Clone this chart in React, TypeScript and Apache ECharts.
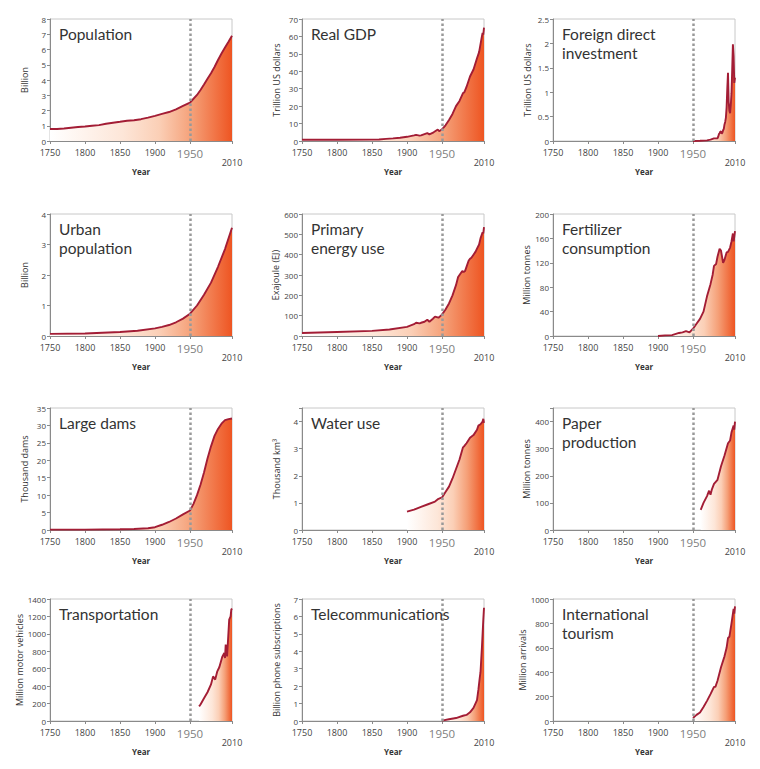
import React, { useEffect, useRef } from 'react';
import * as echarts from 'echarts';

const population = [[1750,0.79],[1760,0.79],[1770,0.82],[1780,0.87],[1790,0.92],[1800,0.95],[1810,1.0],[1820,1.04],[1830,1.13],[1840,1.2],[1850,1.26],[1860,1.33],[1870,1.36],[1880,1.43],[1890,1.53],[1900,1.65],[1910,1.78],[1920,1.9],[1930,2.07],[1940,2.3],[1950,2.52],[1955,2.77],[1960,3.02],[1965,3.34],[1970,3.7],[1975,4.08],[1980,4.44],[1985,4.85],[1990,5.31],[1995,5.74],[2000,6.13],[2005,6.51],[2010,6.9]];
const realGdp = [[1750,0.7],[1800,0.75],[1850,0.8],[1860,0.9],[1870,1.2],[1880,1.5],[1890,1.9],[1900,2.4],[1910,3.2],[1913,3.5],[1918,3.1],[1920,3.2],[1929,4.5],[1932,3.8],[1938,5.0],[1944,6.6],[1946,5.6],[1950,6.7],[1955,9],[1960,12],[1965,15.5],[1970,20],[1975,23],[1980,27.5],[1982,28],[1985,31],[1990,37],[1995,41],[2000,47.5],[2003,51],[2007,60],[2008,62],[2009,61],[2010,65]];
const fdi = [[1950,0],[1960,0.005],[1970,0.013],[1975,0.027],[1980,0.054],[1985,0.056],[1986,0.087],[1987,0.14],[1988,0.16],[1989,0.19],[1990,0.2],[1991,0.15],[1992,0.17],[1993,0.22],[1994,0.25],[1995,0.34],[1996,0.39],[1997,0.48],[1998,0.69],[1999,1.08],[2000,1.4],[2001,0.8],[2002,0.62],[2003,0.57],[2004,0.74],[2005,0.98],[2006,1.46],[2007,1.98],[2008,1.74],[2009,1.19],[2010,1.3]];
const urbanPopulation = [[1750,0.07],[1800,0.08],[1850,0.13],[1875,0.17],[1900,0.25],[1910,0.3],[1920,0.36],[1930,0.45],[1940,0.57],[1950,0.73],[1960,1.0],[1970,1.35],[1980,1.75],[1990,2.27],[2000,2.85],[2010,3.55]];
const energyUse = [[1750,15],[1800,20],[1850,25],[1875,32],[1900,45],[1910,58],[1913,65],[1918,62],[1920,65],[1925,70],[1929,80],[1932,70],[1937,85],[1940,95],[1945,90],[1950,105],[1955,130],[1960,160],[1965,200],[1970,250],[1973,290],[1975,300],[1979,320],[1981,315],[1983,320],[1985,340],[1988,370],[1990,380],[1992,385],[1995,400],[1998,415],[2000,430],[2003,450],[2005,480],[2008,510],[2009,505],[2010,535]];
const fertilizer = [[1900,0],[1910,1],[1920,1.5],[1930,5],[1935,6],[1940,8],[1945,6],[1950,12],[1955,20],[1960,28],[1965,40],[1970,65],[1975,85],[1978,100],[1980,115],[1983,118],[1985,130],[1988,143],[1990,140],[1993,120],[1995,125],[1998,137],[2000,138],[2003,145],[2005,155],[2007,168],[2008,155],[2009,163],[2010,172]];
const largeDams = [[1750,0.1],[1800,0.1],[1850,0.2],[1870,0.3],[1890,0.5],[1900,0.8],[1910,1.5],[1920,2.3],[1930,3.3],[1940,4.5],[1950,5.6],[1955,7.5],[1960,10],[1965,13],[1970,16.5],[1975,20.5],[1980,24],[1985,27],[1990,29],[1995,30.5],[2000,31.5],[2005,31.8],[2010,32]];
const waterUse = [[1900,0.68],[1910,0.75],[1920,0.85],[1930,0.95],[1940,1.05],[1945,1.15],[1950,1.2],[1955,1.4],[1960,1.6],[1965,1.9],[1970,2.25],[1975,2.6],[1980,3.05],[1982,3.1],[1985,3.2],[1990,3.4],[1995,3.5],[2000,3.7],[2002,3.85],[2005,3.9],[2008,4.0],[2009,4.1],[2010,3.95]];
const paperProduction = [[1961,74],[1965,100],[1970,125],[1973,145],[1975,130],[1977,150],[1980,170],[1985,185],[1990,235],[1995,275],[2000,320],[2003,330],[2005,360],[2008,385],[2009,370],[2010,400]];
const motorVehicles = [[1963,168],[1965,190],[1970,260],[1975,330],[1980,420],[1983,512],[1986,475],[1989,570],[1992,620],[1996,734],[1999,780],[2000,723],[2001,876],[2003,742],[2006,1163],[2008,1200],[2009,1278],[2010,1290]];
const phoneSubscriptions = [[1950,0.02],[1960,0.1],[1970,0.17],[1980,0.3],[1985,0.35],[1990,0.5],[1995,0.75],[2000,1.2],[2002,1.8],[2004,2.5],[2005,2.8],[2006,3.5],[2007,4.2],[2008,5.0],[2009,5.8],[2010,6.5]];
const tourismArrivals = [[1950,25],[1955,50],[1960,70],[1965,115],[1970,165],[1975,220],[1980,280],[1982,280],[1985,330],[1990,440],[1995,530],[1998,600],[2000,680],[2002,690],[2005,800],[2008,920],[2009,880],[2010,940]];

const titles = ['Population', 'Real GDP', 'Foreign direct\ninvestment', 'Urban\npopulation', 'Primary\nenergy use', 'Fertilizer\nconsumption', 'Large dams', 'Water use', 'Paper\nproduction', 'Transportation', 'Telecommunications', 'International\ntourism'];
const yNames = ['Billion', 'Trillion US dollars', 'Trillion US dollars', 'Billion', 'Exajoule (EJ)', 'Million tonnes', 'Thousand dams', 'Thousand km³', 'Million tonnes', 'Million motor vehicles', 'Billion phone subscriptions', 'Million arrivals'];
const yMax = [8, 70, 2.5, 4, 600, 200, 35, 4.5, 450, 1400, 7, 1000];
const yInterval = [1, 10, 0.5, 1, 100, 40, 5, 1, 100, 200, 1, 200];
const seriesData = [population, realGdp, fdi, urbanPopulation, energyUse, fertilizer, largeDams, waterUse, paperProduction, motorVehicles, phoneSubscriptions, tourismArrivals];
const xTickStart = 1750;
const xTickEnd = 2010;
const xTickStep = 50;
const markYear = 1950;

export default function App() {
  const ref = useRef<HTMLDivElement>(null);
  useEffect(() => {
    if (!ref.current) return;
    const chart = echarts.init(ref.current, null, { renderer: 'svg' });
    const colLeft = [50, 302, 553];
    const rowTop = [19, 214, 408, 599];
    const W = 182, H = 122;
    const grids: any[] = [], xAxes: any[] = [], yAxes: any[] = [], series: any[] = [], title: any[] = [];
    for (let i = 0; i < 12; i++) {
      const c = i % 3, r = Math.floor(i / 3);
      grids.push({ left: colLeft[c], top: rowTop[r], width: W, height: H, show: true, borderColor: '#c8c8c8', borderWidth: 1 });
      xAxes.push({
        gridIndex: i, type: 'value', min: xTickStart, max: xTickEnd, interval: xTickStep,
        splitLine: { show: false },
        axisLine: { show: true, lineStyle: { color: '#8a8a8a', width: 1 } },
        axisTick: { show: true, length: 3, lineStyle: { color: '#8a8a8a' } },
        axisLabel: {
          showMinLabel: true, showMaxLabel: true, fontFamily: 'Open Sans', fontSize: 9, color: '#444', margin: 6, lineHeight: 10,
          formatter: (v: number) => v === markYear ? '{big|' + v + '}' : v === xTickEnd ? '\n' + v : String(v),
          rich: { big: { fontFamily: 'Open Sans', fontSize: 11.5, color: '#808080', lineHeight: 12 } },
        },
        name: 'Year', nameLocation: 'middle', nameGap: 20,
        nameTextStyle: { fontFamily: 'Open Sans', fontWeight: 'bold', fontSize: 8, color: '#333' },
      });
      const mx = yMax[i], iv = yInterval[i];
      yAxes.push({
        gridIndex: i, type: 'value', min: 0, max: mx, interval: iv,
        splitLine: { show: false },
        axisLine: { show: true, lineStyle: { color: '#8a8a8a', width: 1 } },
        axisTick: { show: true, length: 3, lineStyle: { color: '#8a8a8a' } },
        axisLabel: {
          fontFamily: 'Open Sans', fontSize: 8, color: '#444', margin: 4,
          formatter: (v: number) => (Math.abs(v / iv - Math.round(v / iv)) > 1e-6 ? '' : String(v)),
        },
        name: yNames[i], nameLocation: 'middle', nameGap: i === 9 ? 25 : 21,
        nameTextStyle: { fontFamily: 'Open Sans', fontSize: 9, color: '#333' },
      });
      series.push({
        type: 'line', xAxisIndex: i, yAxisIndex: i, data: seriesData[i],
        symbol: 'none', showSymbol: false,
        lineStyle: { color: '#a31d35', width: 1.9 },
        areaStyle: {
          opacity: 1,
          color: new echarts.graphic.LinearGradient(0, 0, 1, 0, [
            { offset: 0, color: '#ffffff' },
            { offset: 0.4, color: '#fde6d8' },
            { offset: 0.6, color: '#fbcfb6' },
            { offset: 0.78, color: '#f5a078' },
            { offset: 1, color: '#ee5522' },
          ]),
        },
        markLine: {
          silent: true, symbol: ['none', 'none'], label: { show: false },
          lineStyle: { color: '#999', type: 'dotted', width: 2.5 },
          data: [{ xAxis: markYear }],
        },
      });
      title.push({
        text: titles[i], left: colLeft[c] + 9, top: rowTop[r] + 6, padding: 0,
        textStyle: { fontFamily: 'Lato', fontSize: 15.5, fontWeight: 'normal', color: '#333', lineHeight: 18.6 },
      });
    }
    chart.setOption({
      animation: false,
      backgroundColor: '#ffffff',
      title, grid: grids, xAxis: xAxes, yAxis: yAxes, series,
    });
    return () => chart.dispose();
  }, []);
  return <div ref={ref} style={{ position: 'fixed', left: 0, top: 0, width: 760, height: 769 }} />;
}
